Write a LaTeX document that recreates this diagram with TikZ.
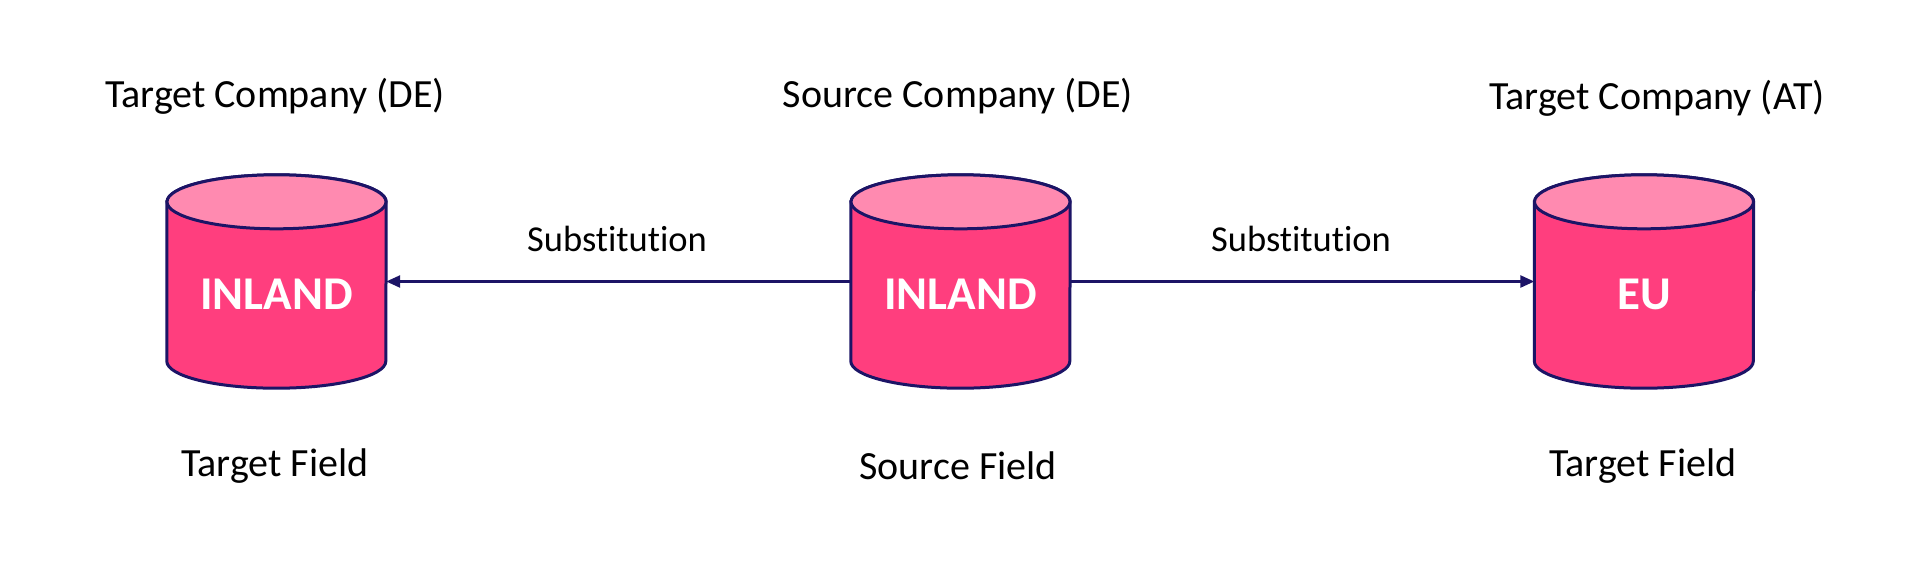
\documentclass[tikz,border=0pt]{standalone}
\usepackage{fontspec}
\setmainfont[Ligatures={NoCommon}]{Carlito}
\usetikzlibrary{calc,arrows.meta}
\definecolor{navy}{HTML}{1C1466}
\definecolor{cylbody}{HTML}{FF3E7E}
\definecolor{cyltop}{HTML}{FF8AB0}
\tikzset{
  holder/.style={minimum width=219pt,minimum height=213pt,inner sep=0pt,draw=none},
  lbl/.style={font=\fontsize{40}{46}\selectfont,text=black,inner sep=0pt},
  sublbl/.style={font=\fontsize{36.5}{42}\selectfont,text=black,inner sep=0pt},
  dblbl/.style={font=\fontsize{47}{52}\selectfont\bfseries,text=white,inner sep=0pt},
  cylline/.style={draw=navy,line width=3pt},
  conn/.style={draw=navy,line width=2.5pt,-{Triangle[length=14pt,width=12pt]}}
}
\newcommand{\drawcyl}[1]{%
  \path[cylline,fill=cylbody] ([yshift=-27pt]#1.north west) -- ([yshift=27pt]#1.south west)
    arc[start angle=180,end angle=360,x radius=109.5pt,y radius=27pt]
    -- ([yshift=-27pt]#1.north east)
    arc[start angle=0,end angle=180,x radius=109.5pt,y radius=27pt] -- cycle;
  \path[cylline,fill=cyltop] ([yshift=-27pt]#1.north) ellipse[x radius=109.5pt,y radius=27pt];
}
\begin{document}
\begin{tikzpicture}[x=1pt,y=-1pt]
\useasboundingbox[fill=white] (0,0) rectangle (1924,566);
\node[holder] (L) at (276.5,281.5) {};
\node[holder] (M) at (960.5,281.5) {};
\node[holder] (R) at (1644,281.5) {};
\drawcyl{L}
\drawcyl{M}
\drawcyl{R}
\node[dblbl] (Lt) at (276.5,294) {INLAND};
\node[dblbl] (Mt) at (960.5,294) {INLAND};
\node[dblbl] (Rt) at (1644,294) {EU};
\draw[conn] (M.west) -- (L.east);
\draw[conn] (M.east) -- (R.west);
\node[sublbl] (s1) at (617,239) {Substitution};
\node[sublbl] (s2) at (1301,239) {Substitution};
\node[lbl] (tl) at (275,96) {Target Company (DE)};
\node[lbl] (tm) at (958,96) {Source Company (DE)};
\node[lbl] (tr) at (1657,98) {Target Company (AT)};
\node[lbl] (bl) at (275,466) {Target Field};
\node[lbl] (bm) at (958,466) {Source Field};
\node[lbl] (br) at (1643,466) {Target Field};
\end{tikzpicture}
\end{document}
